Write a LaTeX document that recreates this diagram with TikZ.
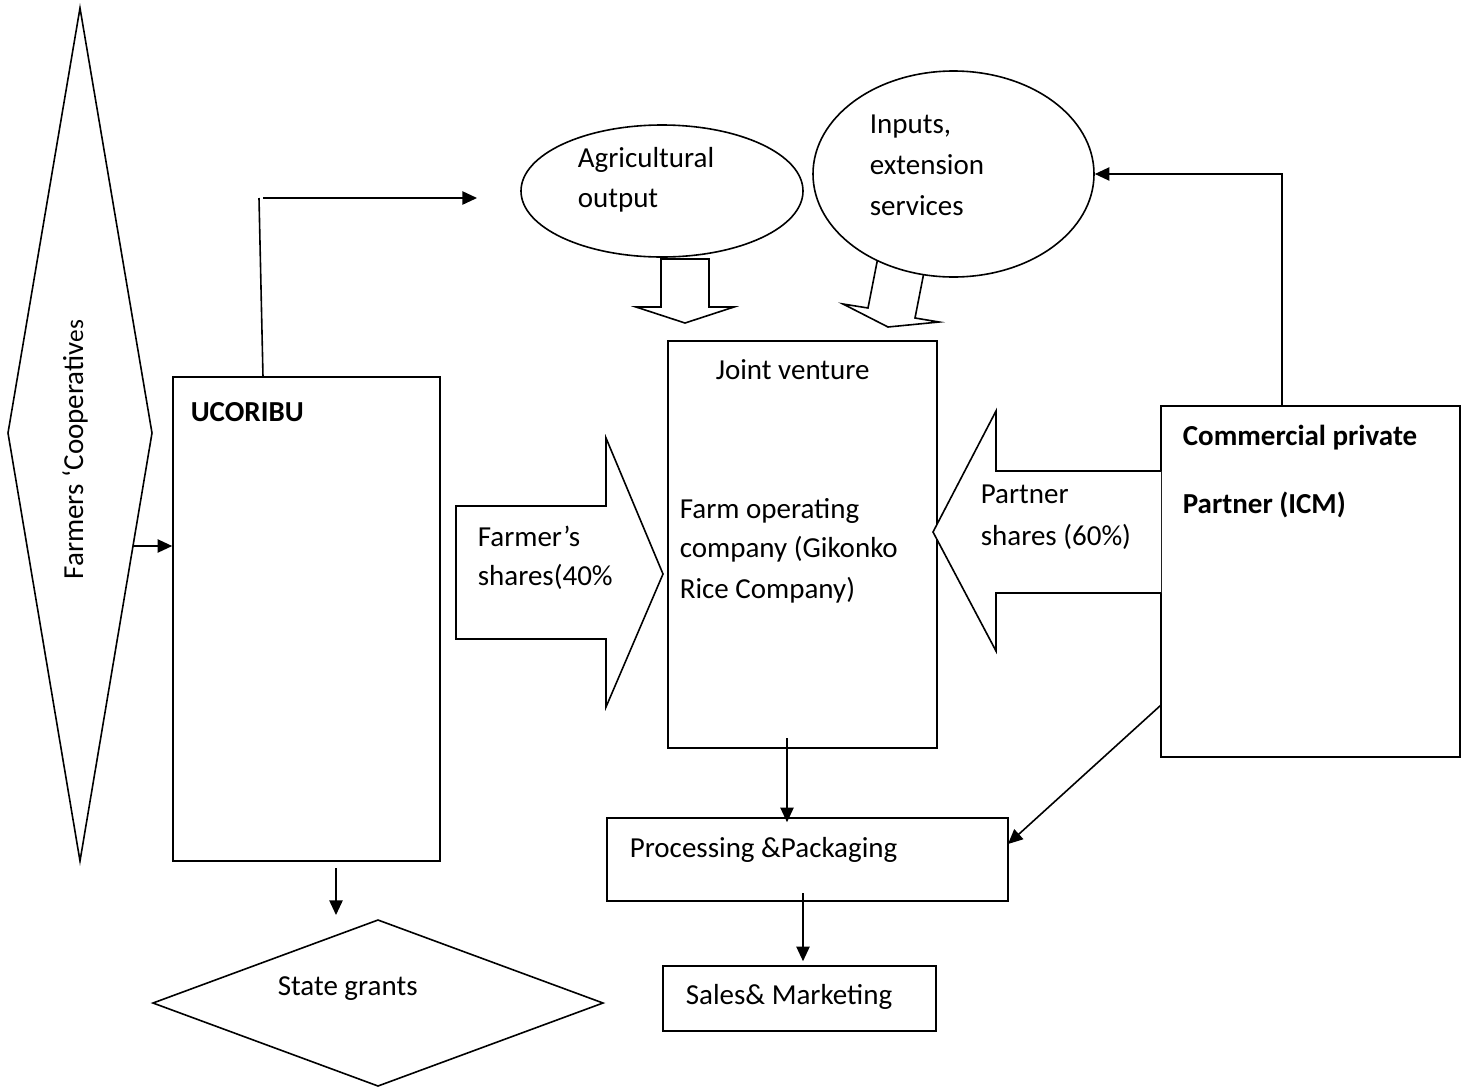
\documentclass[tikz,border=0pt]{standalone}
\usepackage{fontspec}
\setmainfont{Carlito}
\usetikzlibrary{shapes.geometric,arrows.meta,fit,calc}
\newcommand{\dgfont}{\fontsize{21.75pt}{30pt}\selectfont}
\begin{document}
\begin{tikzpicture}[x=0.75pt,y=-0.75pt,line width=1.2pt,
  box/.style={draw,rectangle,inner sep=0pt},
  lbl/.style={anchor=base west,inner sep=0pt,font=\dgfont},
  blbl/.style={anchor=base west,inner sep=0pt,font=\dgfont\bfseries},
  arr/.style={-{Triangle[length=11pt,width=10pt]}},
  blockarrow/.style={draw,fill=white,line join=miter}]
\useasboundingbox (0,0) rectangle (1470,1086);

% Farmers' Cooperatives diamond
\coordinate (fct) at (80,8);
\coordinate (fcr) at (152,433);
\coordinate (fcb) at (80,861);
\coordinate (fcl) at (8,433);
\draw (fct) -- (fcr) -- (fcb) -- (fcl) -- cycle;
\node[lbl,rotate=90] (fctext) at (83,580) {Farmers ‘Cooperativ{\fontsize{19pt}{20pt}\selectfont es}};

% Boxes
\node[box,fit={(173,377) (440,861)}] (ucoribu) {};
\node[box,fit={(668,341) (937,748)}] (jv) {};
\node[box,fit={(1161,406) (1460,757)}] (cpp) {};
\node[box,fit={(607,818) (1008,901)}] (proc) {};
\node[box,fit={(663,966) (936,1031)}] (sales) {};

% State grants diamond
\coordinate (sgt) at (378,920);
\coordinate (sgr) at (603,1003);
\coordinate (sgb) at (378,1086);
\coordinate (sgl) at (153,1003);
\draw (sgt) -- (sgr) -- (sgb) -- (sgl) -- cycle;

% Block arrow below Agricultural output
\draw[blockarrow] (661,259) -- (709,259) -- (709,307) -- (734,307) -- (685,323) -- (636,307) -- (661,307) -- cycle;
% Block arrow below Inputs (tilted)
\draw[blockarrow] (878,257) -- (868,308) -- (843,304) -- (888,327) -- (939,322) -- (915,318) -- (925,267) -- cycle;

% Ellipses
\node[draw,ellipse,fill=white,inner sep=0pt,minimum width=211.5pt,minimum height=99pt] (agri) at (662,191) {};
\node[draw,ellipse,fill=white,inner sep=0pt,minimum width=210.75pt,minimum height=154.5pt] (inp) at (953.5,174) {};

% Farmer's shares block arrow
\draw[blockarrow] (456,506) -- (606,506) -- (606,438) -- (663,574) -- (606,707) -- (606,639) -- (456,639) -- cycle;
% Partner shares block arrow
\draw[blockarrow] (1161,471) -- (996,471) -- (996,411) -- (933,532) -- (996,651) -- (996,593) -- (1161,593);

% Connectors
\draw[arr] (133,546) coordinate (fcarr) -- (ucoribu.west |- fcarr);
\coordinate (ua) at (263,377);
\coordinate (ub) at (259,198);
\coordinate (uc) at (263,198);
\coordinate (ud) at (477,198);
\draw (ua) -- (ub);
\draw[arr] (uc) -- (ud);
\coordinate (cpa) at (1282,406);
\draw[arr] (cpa) |- (inp.east);
\coordinate (jvb) at (787,738);
\draw[arr] (jvb) -- ($(proc.north -| jvb)+(0,5)$);
\coordinate (prb) at (803,893);
\draw[arr] (prb) -- ($(sales.north -| prb)+(0,-4)$);
\coordinate (ucb) at (336,868);
\coordinate (sga) at (336,915);
\draw[arr] (ucb) -- (sga);
\coordinate (cpd) at (1161,705);
\coordinate (prd) at (1008,844);
\draw[arr] (cpd) -- (prd);

% Labels
\node[lbl] (t1) at (577,167) {Agricultural};
\node[lbl] (t2) at (577,207) {output};
\node[lbl] (t3) at (869,133) {Inputs,};
\node[lbl] (t4) at (869,174) {extension};
\node[lbl] (t5) at (869,215) {services};
\node[blbl] (t6) at (190,421) {UCORIBU};
\node[lbl] (t7) at (715,379) {Joint venture};
\node[lbl] (t8) at (679,518) {Farm operating};
\node[lbl] (t9) at (679,557) {company (Gikonko};
\node[lbl] (t10) at (679,598) {Rice Company)};
\node[lbl] (t11) at (477,546) {Farmer’s};
\node[lbl] (t12) at (477,585) {shares(40\%};
\node[lbl] (t13) at (980,503) {Partner};
\node[lbl] (t14) at (980,545) {shares (60\%)};
\node[blbl] (t15) at (1182,445) {Commercial private};
\node[blbl] (t16) at (1182,513) {Partner (ICM)};
\node[lbl] (t17) at (629,857) {Processing \&Packaging};
\node[lbl] (t18) at (685,1004) {Sales\& Marketing};
\node[lbl] (t19) at (277,995) {State grants};
\end{tikzpicture}
\end{document}
